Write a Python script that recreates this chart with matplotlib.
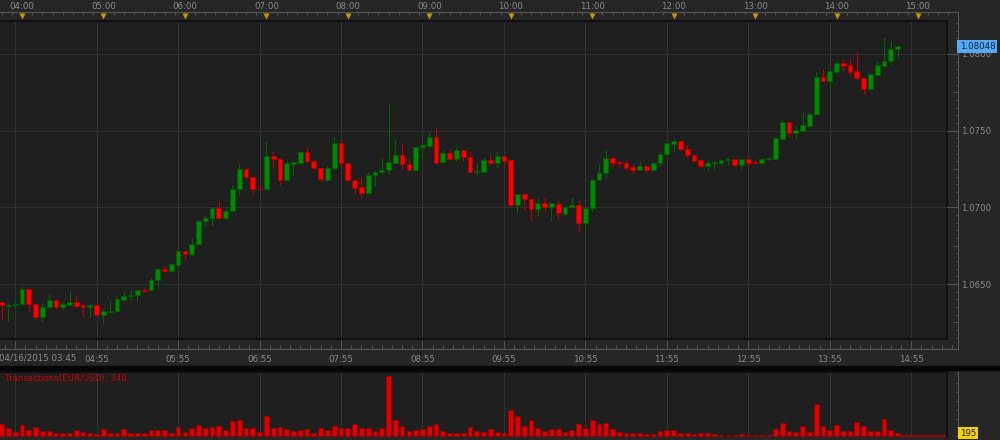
import matplotlib
matplotlib.use("Agg")
import matplotlib.pyplot as plt
import matplotlib.transforms as mtransforms
from matplotlib.patches import Rectangle
from matplotlib.ticker import FixedLocator, FuncFormatter, MultipleLocator, NullFormatter
import numpy as np

# EUR/USD 5-minute candles, 04/16/2015 from 03:45
start_minute = 3 * 60 + 45
bar_minutes = 5

opens = [
    1.06381, 1.06357, 1.06361, 1.06368, 1.06468, 1.06372, 1.06285, 1.06348, 1.06398, 1.06348,
    1.06366, 1.06385, 1.06361, 1.06348, 1.06361, 1.06298, 1.06320, 1.06322, 1.06398, 1.06420,
    1.06426, 1.06463, 1.06459, 1.06524, 1.06598, 1.06583, 1.06626, 1.06717, 1.06696, 1.06758,
    1.06913, 1.06928, 1.06997, 1.06928, 1.06973, 1.07121, 1.07251, 1.07197, 1.07121, 1.07119,
    1.07336, 1.07316, 1.07179, 1.07283, 1.07288, 1.07362, 1.07305, 1.07255, 1.07179, 1.07253,
    1.07416, 1.07288, 1.07177, 1.07131, 1.07095, 1.07212, 1.07229, 1.07240, 1.07292, 1.07338,
    1.07283, 1.07242, 1.07390, 1.07398, 1.07461, 1.07294, 1.07353, 1.07316, 1.07374, 1.07329,
    1.07229, 1.07233, 1.07309, 1.07286, 1.07335, 1.07307, 1.07012, 1.07084, 1.07053, 1.06990,
    1.07025, 1.06999, 1.07023, 1.06958, 1.07001, 1.07014, 1.06901, 1.06993, 1.07179, 1.07221,
    1.07320, 1.07296, 1.07290, 1.07264, 1.07246, 1.07270, 1.07242, 1.07290, 1.07346, 1.07414,
    1.07433, 1.07383, 1.07342, 1.07307, 1.07266, 1.07292, 1.07292, 1.07309, 1.07316, 1.07275,
    1.07316, 1.07296, 1.07288, 1.07314, 1.07318, 1.07448, 1.07555, 1.07487, 1.07500, 1.07531,
    1.07607, 1.07848, 1.07826, 1.07884, 1.07943, 1.07928, 1.07889, 1.07843, 1.07774, 1.07863,
    1.07924, 1.07954, 1.08030,
]
highs = [
    1.06385, 1.06376, 1.06398, 1.06485, 1.06474, 1.06374, 1.06376, 1.06442, 1.06400, 1.06381,
    1.06455, 1.06426, 1.06363, 1.06372, 1.06363, 1.06340, 1.06394, 1.06420, 1.06457, 1.06468,
    1.06465, 1.06481, 1.06541, 1.06604, 1.06620, 1.06635, 1.06735, 1.06719, 1.06800, 1.06926,
    1.06952, 1.06999, 1.07041, 1.07001, 1.07147, 1.07288, 1.07262, 1.07199, 1.07153, 1.07429,
    1.07364, 1.07325, 1.07308, 1.07301, 1.07364, 1.07392, 1.07307, 1.07257, 1.07266, 1.07459,
    1.07427, 1.07290, 1.07179, 1.07199, 1.07227, 1.07244, 1.07329, 1.07674, 1.07448, 1.07414,
    1.07320, 1.07396, 1.07424, 1.07494, 1.07518, 1.07374, 1.07383, 1.07390, 1.07376, 1.07364,
    1.07292, 1.07327, 1.07348, 1.07364, 1.07342, 1.07309, 1.07086, 1.07086, 1.07055, 1.07062,
    1.07069, 1.07027, 1.07049, 1.07014, 1.07069, 1.07049, 1.06999, 1.07194, 1.07281, 1.07379,
    1.07327, 1.07307, 1.07309, 1.07281, 1.07305, 1.07272, 1.07292, 1.07364, 1.07418, 1.07450,
    1.07435, 1.07405, 1.07344, 1.07309, 1.07309, 1.07309, 1.07311, 1.07327, 1.07318, 1.07318,
    1.07318, 1.07309, 1.07316, 1.07331, 1.07457, 1.07574, 1.07559, 1.07531, 1.07622, 1.07622,
    1.07889, 1.07904, 1.07889, 1.07956, 1.07965, 1.07973, 1.08010, 1.07845, 1.07871, 1.07952,
    1.08108, 1.08091, 1.08060,
]
lows = [
    1.06275, 1.06253, 1.06340, 1.06366, 1.06322, 1.06272, 1.06253, 1.06344, 1.06329, 1.06329,
    1.06364, 1.06342, 1.06283, 1.06283, 1.06296, 1.06238, 1.06316, 1.06320, 1.06396, 1.06396,
    1.06387, 1.06446, 1.06457, 1.06476, 1.06576, 1.06581, 1.06622, 1.06659, 1.06680, 1.06756,
    1.06880, 1.06876, 1.06926, 1.06923, 1.06971, 1.07082, 1.07179, 1.07086, 1.07116, 1.07114,
    1.07255, 1.07147, 1.07175, 1.07212, 1.07283, 1.07287, 1.07251, 1.07164, 1.07169, 1.07240,
    1.07255, 1.07173, 1.07086, 1.07058, 1.07084, 1.07136, 1.07214, 1.07214, 1.07288, 1.07246,
    1.07240, 1.07240, 1.07316, 1.07396, 1.07290, 1.07292, 1.07314, 1.07303, 1.07299, 1.07227,
    1.07212, 1.07231, 1.07275, 1.07259, 1.07266, 1.07010, 1.06960, 1.06980, 1.06908, 1.06943,
    1.06973, 1.06914, 1.06927, 1.06943, 1.06999, 1.06836, 1.06849, 1.06971, 1.07177, 1.07194,
    1.07262, 1.07255, 1.07240, 1.07214, 1.07244, 1.07227, 1.07238, 1.07266, 1.07340, 1.07370,
    1.07364, 1.07331, 1.07303, 1.07264, 1.07238, 1.07251, 1.07277, 1.07277, 1.07272, 1.07251,
    1.07264, 1.07283, 1.07283, 1.07305, 1.07316, 1.07446, 1.07459, 1.07446, 1.07498, 1.07526,
    1.07605, 1.07824, 1.07776, 1.07878, 1.07891, 1.07863, 1.07830, 1.07739, 1.07759, 1.07856,
    1.07922, 1.07930, 1.07980,
]
closes = [
    1.06361, 1.06363, 1.06372, 1.06468, 1.06368, 1.06285, 1.06350, 1.06398, 1.06348, 1.06372,
    1.06385, 1.06359, 1.06348, 1.06361, 1.06298, 1.06327, 1.06327, 1.06405, 1.06422, 1.06431,
    1.06463, 1.06457, 1.06528, 1.06598, 1.06583, 1.06630, 1.06717, 1.06696, 1.06763, 1.06913,
    1.06928, 1.06997, 1.06928, 1.06973, 1.07121, 1.07251, 1.07195, 1.07119, 1.07117, 1.07336,
    1.07312, 1.07179, 1.07287, 1.07296, 1.07362, 1.07305, 1.07253, 1.07182, 1.07255, 1.07416,
    1.07288, 1.07175, 1.07129, 1.07095, 1.07212, 1.07231, 1.07242, 1.07296, 1.07338, 1.07279,
    1.07242, 1.07394, 1.07403, 1.07461, 1.07292, 1.07351, 1.07316, 1.07374, 1.07325, 1.07229,
    1.07238, 1.07309, 1.07286, 1.07335, 1.07305, 1.07012, 1.07084, 1.07051, 1.06990, 1.07025,
    1.06999, 1.07025, 1.06960, 1.07001, 1.07014, 1.06901, 1.06997, 1.07181, 1.07225, 1.07320,
    1.07286, 1.07290, 1.07259, 1.07246, 1.07270, 1.07242, 1.07290, 1.07348, 1.07416, 1.07433,
    1.07381, 1.07340, 1.07305, 1.07266, 1.07290, 1.07296, 1.07309, 1.07316, 1.07275, 1.07316,
    1.07292, 1.07290, 1.07314, 1.07322, 1.07453, 1.07555, 1.07487, 1.07503, 1.07537, 1.07609,
    1.07848, 1.07826, 1.07887, 1.07943, 1.07924, 1.07884, 1.07841, 1.07774, 1.07869, 1.07928,
    1.07954, 1.08032, 1.08048,
]
volumes = [
    70, 45, 26, 66, 38, 55, 32, 30, 17, 17,
    21, 38, 26, 21, 15, 41, 21, 21, 41, 17,
    21, 17, 38, 38, 34, 21, 55, 26, 45, 66,
    45, 55, 60, 38, 85, 94, 49, 49, 26, 115,
    49, 55, 41, 32, 38, 41, 21, 49, 38, 60,
    49, 49, 70, 45, 45, 32, 45, 340, 94, 58,
    30, 38, 41, 60, 70, 32, 21, 21, 21, 55,
    32, 26, 41, 26, 21, 150, 117, 58, 94, 45,
    32, 41, 41, 26, 38, 70, 49, 94, 70, 73,
    41, 26, 21, 21, 17, 15, 15, 30, 38, 38,
    21, 21, 15, 21, 21, 15, 9, 9, 9, 15,
    9, 9, 9, 9, 41, 77, 30, 26, 58, 26,
    184, 58, 38, 66, 32, 30, 83, 58, 30, 32,
    98, 38, 17,
]
price_levels = [1.0650, 1.0700, 1.0750, 1.0800]
price_range = (1.06142, 1.08214)
volume_tag = "195"
date_label = "04/16/2015 03:45"

BG = "#262626"
PANEL = "#1f1f1f"
GRID = "#333333"
RULE = "#555555"
BORDER = "#0e0e0e"
LABEL = "#8c8c8c"
GREEN, GREEN_EDGE, GREEN_WICK = "#008a00", "#005c00", "#006400"
RED, RED_EDGE, RED_WICK = "#ff0000", "#b00000", "#c00000"

W, H = 1000, 440
PX_PER_MIN = 81.45 / 60
X0 = 240 - 22 / PX_PER_MIN


def rect(x0, y0, x1, y1):
    return [x0 / W, 1 - y1 / H, (x1 - x0) / W, (y1 - y0) / H]


def xlim_px(a, b):
    return (X0 + a / PX_PER_MIN, X0 + b / PX_PER_MIN)


def hhmm(m, pos=None):
    return f"{int(m // 60):02d}:{int(round(m % 60)):02d}"


o = np.array(opens)
h = np.array(highs)
l = np.array(lows)
c = np.array(closes)
times = start_minute + bar_minutes * np.arange(len(c))
up = c >= o

hour_ticks = np.arange(240, 930, 60)          # hh:00 on top ruler
grid_ticks = np.arange(235, 921, 60)          # hh:55 grid / bottom labels
top_minor = np.arange(225, 930, 7.5)
bottom_minor = np.arange(220, 930, 7.5)

fig = plt.figure(figsize=(W / 100, H / 100), dpi=100)
fig.patch.set_facecolor(BG)
plt.rcParams["font.family"] = "DejaVu Sans"

# rulers around the price panel
ax_frame = fig.add_axes(rect(0, 12, 958, 349))
ax_frame.set_facecolor("none")
ax_frame.set_xlim(xlim_px(0, 958))
ax_frame.set_ylim(0, 1)
ax_frame.yaxis.set_visible(False)
ax_frame.spines["left"].set_visible(False)
for s in ("top", "right", "bottom"):
    ax_frame.spines[s].set_color(RULE)
    ax_frame.spines[s].set_linewidth(0.8)
ax_frame.xaxis.set_major_locator(FixedLocator(grid_ticks))
ax_frame.xaxis.set_minor_locator(FixedLocator(bottom_minor))
ax_frame.xaxis.set_major_formatter(FuncFormatter(lambda m, p: "" if m < 240 else hhmm(m)))
ax_frame.tick_params(axis="x", which="major", direction="in", length=6.5, width=0.7,
                     color=RULE, labelsize=6.2, labelcolor=LABEL, pad=4)
ax_frame.tick_params(axis="x", which="minor", direction="in", length=2.8, width=0.7, color=RULE)

ax_top = ax_frame.twiny()
ax_top.set_facecolor("none")
ax_top.set_xlim(xlim_px(0, 958))
for s in ax_top.spines.values():
    s.set_visible(False)
ax_top.xaxis.set_major_locator(FixedLocator(hour_ticks))
ax_top.xaxis.set_minor_locator(FixedLocator(top_minor))
ax_top.xaxis.set_major_formatter(FuncFormatter(hhmm))
ax_top.tick_params(axis="x", which="both", direction="in", length=2.2, width=0.7,
                   color=RULE, labelsize=6.2, labelcolor=LABEL, pad=0.4)
tri_tr = mtransforms.blended_transform_factory(ax_top.transData, ax_top.transAxes)
ax_top.plot(hour_ticks, np.full(len(hour_ticks), 0.988), marker="v", ls="none", ms=4.8,
            color="#c8960f", mec="none", transform=tri_tr, clip_on=False)

fig.text(-0.001, 1 - 358 / H, date_label, ha="left", va="center", fontsize=6.2, color=LABEL)

# price panel
ax = fig.add_axes(rect(0, 21, 947, 339))
ax.set_facecolor(PANEL)
ax.set_xlim(xlim_px(0, 947))
ax.set_ylim(*price_range)
ax.set_xticks(grid_ticks)
ax.set_yticks(price_levels)
ax.grid(True, color=GRID, linewidth=0.7)
ax.tick_params(length=0, labelbottom=False, labelleft=False)
ax.spines["left"].set_visible(False)
for s in ("top", "right", "bottom"):
    ax.spines[s].set_color(BORDER)
    ax.spines[s].set_linewidth(1.3)
ax.set_axisbelow(True)

ax.vlines(times, l, h, colors=np.where(up, GREEN_WICK, RED_WICK), linewidth=0.8, zorder=2)
body_low = np.minimum(o, c)
body_h = np.maximum(np.abs(c - o), 0.00005)
ax.bar(times, body_h, bottom=body_low, width=3.5, color=np.where(up, GREEN, RED),
       edgecolor=np.where(up, GREEN_EDGE, RED_EDGE), linewidth=0.6, zorder=3)

# price scale
ax_p = fig.add_axes(rect(947, 21, 958, 339))
ax_p.set_facecolor("none")
ax_p.set_ylim(*price_range)
ax_p.set_xlim(0, 1)
ax_p.set_xticks([])
for s in ax_p.spines.values():
    s.set_visible(False)
ax_p.yaxis.tick_right()
ax_p.yaxis.set_major_locator(MultipleLocator(0.0025))
ax_p.yaxis.set_minor_locator(MultipleLocator(0.0005))
ax_p.yaxis.set_major_formatter(FuncFormatter(
    lambda v, p: f"{v:.4f}" if abs(v * 200 - round(v * 200)) < 1e-6 else ""))
ax_p.tick_params(axis="y", which="major", direction="in", length=3.6, width=0.7,
                 color=RULE, labelsize=6.2, labelcolor=LABEL, pad=2)
ax_p.tick_params(axis="y", which="minor", direction="in", length=1.8, width=0.7, color=RULE)
for v in price_levels:
    ax_p.axhline(v, color=RULE, linewidth=0.8)
ptr = mtransforms.blended_transform_factory(ax_p.transAxes, ax_p.transData)
ax_p.text(1.15, closes[-1], f"{closes[-1]:.5f}", transform=ptr, ha="left", va="center",
          fontsize=6.2, color="#0b1f33", zorder=6, clip_on=False,
          bbox=dict(boxstyle="square,pad=0.25", fc="#55aaf5", ec="none"))

# separator
fig.add_artist(Rectangle((0, 1 - 369.5 / H), 1, 3.5 / H, transform=fig.transFigure,
                         color="#050505", zorder=0))

# transactions panel
vol_range = (-4, 362)
axv = fig.add_axes(rect(0, 372, 947, 437))
axv.set_facecolor(PANEL)
axv.set_xlim(xlim_px(0, 947))
axv.set_ylim(*vol_range)
axv.set_xticks(grid_ticks)
axv.set_yticks([])
axv.grid(True, axis="x", color=GRID, linewidth=0.7)
axv.tick_params(length=0, labelbottom=False)
axv.set_axisbelow(True)
for s in ("left", "bottom"):
    axv.spines[s].set_visible(False)
for s in ("top", "right"):
    axv.spines[s].set_color(BORDER)
    axv.spines[s].set_linewidth(1.3)
axv.bar(times, volumes, width=3.5, color="#e00000", edgecolor="#990000", linewidth=0.6, zorder=3)
x0, x1 = axv.get_xlim()
axv.axhline(0, xmin=(times[-1] + 2 - x0) / (x1 - x0), xmax=1, color="#b00000", linewidth=1.2)
axv.text(5 / 947, 0.905, f"Transactions(EUR/USD): {max(volumes)}", transform=axv.transAxes,
         ha="left", va="center", fontsize=6.2, color="#cc0000")

axvr = fig.add_axes(rect(947, 372, 958, 437))
axvr.set_facecolor("none")
axvr.set_ylim(*vol_range)
axvr.set_xlim(0, 1)
axvr.set_xticks([])
for s in ("left", "top", "bottom"):
    axvr.spines[s].set_visible(False)
axvr.spines["right"].set_color(RULE)
axvr.spines["right"].set_linewidth(0.8)
axvr.yaxis.tick_right()
axvr.yaxis.set_major_locator(MultipleLocator(50))
axvr.yaxis.set_major_formatter(NullFormatter())
axvr.tick_params(axis="y", direction="in", length=1.8, width=0.7, color=RULE)
vtr = mtransforms.blended_transform_factory(axvr.transAxes, axvr.transData)
axvr.text(1.15, volumes[-1], volume_tag, transform=vtr, ha="left", va="center",
          fontsize=6.2, color="#1a1400", zorder=6, clip_on=False,
          bbox=dict(boxstyle="square,pad=0.2", fc="#f2d200", ec="none"))

fig.savefig("out.png", dpi=100, facecolor=BG)
